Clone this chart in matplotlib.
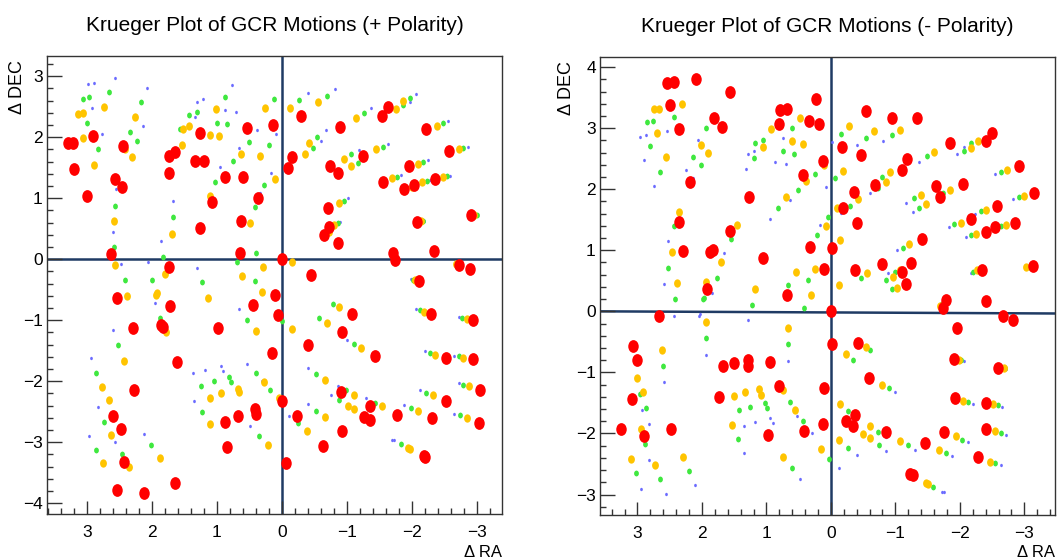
import numpy as np
import matplotlib
matplotlib.use('Agg')
import matplotlib.pyplot as plt
from matplotlib.path import Path
from matplotlib.ticker import MultipleLocator

plt.rcParams['font.family'] = ['Liberation Sans Narrow', 'Liberation Sans', 'DejaVu Sans']
plt.rcParams['axes.unicode_minus'] = True

# ---- (+ Polarity) panel: (dRA, dDEC) per marker colour ----
pos_red = [(3.28,1.90),(3.21,1.91),(3.19,1.48),(3.00,1.04),(2.91,2.02),(2.56,1.31),(2.45,1.18),(2.44,1.86),
           (2.63,0.09),(1.73,1.69),(1.65,1.76),(1.73,1.41),(1.73,-0.13),(1.26,2.07),(1.33,1.61),(1.19,1.61),
           (1.08,0.94),(1.26,0.51),(0.87,1.34),(0.59,1.35),(0.53,2.15),(0.36,1.00),(0.63,0.62),(0.65,0.11),
           (0.13,2.20),(0.00,0.00),(-0.09,1.49),(-0.16,1.68),
           (-0.29,2.35),(-0.90,2.17),(-1.54,2.35),(-1.64,2.49),(-0.74,1.52),(-0.86,1.41),(-1.25,1.69),(-2.21,2.13),
           (-2.57,1.78),(-1.95,1.52),(-1.55,1.27),(-1.88,1.15),(-2.04,1.22),(-2.36,1.32),(-0.71,0.84),(-0.72,0.53),
           (-0.65,0.40),(-0.86,0.27),(-2.08,0.61),(-2.91,0.72),(-1.71,0.11),(-1.74,-0.02),(-2.34,0.14),(-2.73,-0.10),
           (-2.90,-0.16),(-0.45,-0.26),
           (2.54,-0.63),(2.29,-1.13),(1.83,-1.11),(1.85,-1.08),(1.72,-0.77),(0.98,-1.13),(0.45,-0.75),(0.10,-0.58),
           (0.06,-0.92),(1.61,-1.68),(0.15,-1.53),(2.27,-2.15),(2.59,-2.57),(2.47,-2.79),(2.42,-3.33),(2.53,-3.78),
           (2.12,-3.83),(1.65,-3.67),(0.87,-2.66),(0.67,-2.57),(0.41,-2.46),(0.39,-2.54),(0.84,-3.08),(0.00,-2.33),
           (-0.23,-2.57),(-0.06,-3.34),
           (-2.11,-0.36),(-1.08,-0.89),(-2.30,-0.89),(-2.94,-0.99),(-0.92,-1.20),(-0.41,-1.40),(-1.44,-1.58),
           (-2.53,-1.62),(-2.94,-1.64),(-3.05,-2.14),(-2.52,-2.32),(-0.91,-2.18),(-1.36,-2.40),(-1.27,-2.58),
           (-1.36,-2.64),(-1.77,-2.56),(-2.31,-2.60),(-3.03,-2.68),(-0.92,-2.81),(-0.64,-3.06),(-2.18,-3.23),(-2.20,-3.24)]
pos_yellow = [(3.13,2.38),(3.05,2.40),(3.06,1.98),(2.89,1.55),(2.74,2.49),(2.58,0.62),(2.57,-0.09),(2.41,1.80),
              (2.30,1.68),(2.26,2.33),(1.80,-0.24),(1.69,0.41),(1.53,1.87),(1.52,2.14),(1.43,2.19),(1.11,2.03),
              (0.96,2.02),(1.01,2.46),(1.10,1.03),(0.62,1.72),(0.49,0.60),(0.61,-0.27),(0.34,1.69),(0.26,2.47),
              (0.29,-0.13),(0.10,1.31),(-0.13,2.47),(-0.15,-0.05),
              (-0.55,2.57),(-1.14,2.32),(-1.76,2.46),(-1.86,2.60),(-0.35,1.72),(-0.42,1.90),(-0.96,1.65),(-1.06,1.52),
              (-1.45,1.80),(-2.38,2.19),(-2.72,1.81),(-2.09,1.56),(-1.70,1.33),(-2.16,1.26),(-2.48,1.35),(-2.00,1.18),
              (-0.88,0.92),(-0.81,0.56),(-0.73,0.44),(-2.14,0.62),(-2.96,0.72),(-2.68,-0.08),(-2.05,-0.34),
              (2.38,-0.60),(1.94,-0.58),(1.92,-0.56),(1.78,-1.20),(1.14,-0.63),(0.40,-1.17),(0.30,-0.54),(2.43,-1.66),
              (2.77,-2.09),(2.65,-2.31),(2.63,-2.88),(2.75,-3.34),(2.35,-3.41),(1.88,-3.26),(1.11,-2.27),(0.93,-2.19),
              (0.68,-2.12),(0.66,-2.17),(1.10,-2.70),(0.27,-2.02),(0.21,-3.04),(0.04,-2.27),
              (-0.88,-0.78),(-0.69,-1.04),(-0.15,-1.15),(-1.21,-1.46),(-2.18,-0.86),(-2.84,-0.98),(-2.36,-1.57),
              (-2.79,-1.62),(-2.88,-2.08),(-2.32,-2.23),(-0.66,-1.98),(-1.11,-2.23),(-1.01,-2.40),(-1.11,-2.46),
              (-1.54,-2.41),(-2.09,-2.49),(-0.66,-2.58),(-0.38,-2.81),(-1.94,-3.10),(-1.97,-3.11),(-2.84,-2.61)]
pos_green = [(3.06,2.62),(2.97,2.65),(2.99,2.24),(2.83,1.81),(2.65,2.74),(2.56,0.88),(2.58,0.20),(2.34,2.08),
             (2.23,1.93),(2.16,2.57),(1.83,0.03),(1.68,0.69),(1.56,2.13),(1.42,2.36),(1.31,2.41),(1.03,1.26),
             (1.00,2.24),(0.88,2.65),(0.84,2.22),(0.75,1.61),(0.50,1.92),(0.41,0.85),(0.39,0.11),(0.69,-0.04),
             (0.28,1.22),(0.20,1.87),(0.12,2.62),(-0.27,2.61),
             (-0.69,2.68),(-1.26,2.40),(-1.87,2.52),(-1.97,2.64),(-0.48,1.83),(-0.54,2.01),(-1.07,1.72),(-1.17,1.57),
             (-1.55,1.84),(-2.48,2.23),(-2.79,1.83),(-2.17,1.59),(-1.77,1.35),(-2.23,1.28),(-2.54,1.36),(-0.95,0.96),
             (-0.86,0.59),(-2.17,0.62),(-3.00,0.72),(-2.01,-0.34),
             (2.41,-0.34),(1.99,-0.34),(1.22,-0.38),(0.41,-0.35),(1.87,-0.96),(0.53,-0.99),(0.00,-1.01),(2.52,-1.41),
             (2.85,-1.86),(2.73,-2.66),(2.85,-3.13),(2.46,-3.19),(2.01,-3.05),(1.24,-2.07),(1.05,-2.00),(0.81,-1.93),
             (0.78,-2.01),(1.22,-2.50),(0.39,-1.87),(0.18,-2.14),(0.35,-2.90),(-0.25,-2.69),
             (-0.78,-0.73),(-0.57,-0.96),(-1.11,-1.39),(-2.12,-0.83),(-2.77,-0.96),(-2.28,-1.54),(-2.73,-1.59),
             (-2.79,-2.06),(-2.22,-2.19),(-0.53,-1.88),(-0.99,-2.15),(-0.88,-2.31),(-1.43,-2.35),(-1.99,-2.43),
             (-0.53,-2.48),(-1.84,-3.02),(-2.74,-2.56)]
pos_blue = [(2.98,2.87),(2.89,2.89),(2.92,2.47),(2.77,2.06),(2.56,2.97),(2.55,1.15),(2.60,0.45),(2.47,-0.08),
            (2.14,2.18),(2.07,2.80),(2.05,-0.05),(1.86,0.30),(1.67,0.95),(1.33,2.33),(1.30,2.58),(1.21,2.63),
            (1.30,-0.15),(0.95,1.51),(0.88,2.44),(0.76,2.86),(0.71,2.42),(0.66,1.83),(0.33,1.09),(0.38,2.12),
            (0.17,1.42),(0.09,2.05),
            (-0.41,2.73),(-0.82,2.79),(-1.37,2.47),(-1.97,2.57),(-2.07,2.70),(-0.60,1.94),(-0.68,2.12),(-1.18,1.79),
            (-1.64,1.89),(-2.56,2.26),(-2.86,1.84),(-2.24,1.62),(-1.84,1.38),(-2.28,1.29),(-2.58,1.37),(-1.02,1.00),
            (-0.90,0.61),(-2.19,0.62),(-1.99,-0.33),
            (1.95,-0.72),(0.66,-0.81),(2.59,-1.16),(2.94,-1.62),(2.83,-2.42),(2.96,-2.90),(2.57,-2.99),(2.12,-2.86),
            (1.37,-1.87),(1.18,-1.81),(0.94,-1.75),(0.91,-1.83),(1.35,-2.32),(0.54,-1.71),(0.31,-1.99),(0.49,-2.74),
            (-0.11,-2.57),
            (-1.00,-1.33),(-2.06,-0.82),(-2.73,-0.95),(-2.20,-1.51),(-2.65,-1.58),(-2.72,-2.03),(-2.12,-2.14),
            (-0.40,-1.78),(-0.86,-2.07),(-0.76,-2.23),(-1.30,-2.27),(-1.88,-2.39),(-0.40,-2.38),(-1.70,-2.96),
            (-1.73,-2.97),(-2.64,-2.54)]

# ---- (- Polarity) panel ----
neg_red = [(2.54,3.74),(2.44,3.75),(2.09,3.80),(1.57,3.60),(2.50,3.38),(2.36,2.98),(1.81,3.17),(1.69,3.02),
           (2.19,2.12),(2.36,1.47),(2.30,0.99),(1.87,0.98),(1.83,1.00),(1.92,0.37),(1.57,1.31),(1.27,1.87),
           (1.05,0.88),(0.81,3.06),(0.79,3.29),(0.68,3.32),(0.34,3.12),(0.23,3.48),(0.18,3.06),(0.12,2.47),
           (0.43,2.23),(0.33,1.05),(0.10,0.69),(0.68,0.26),(-0.01,1.04),
           (-0.55,3.28),(-0.94,3.17),(-1.33,3.16),(-0.17,2.69),(-0.46,2.56),(-1.18,2.49),(-1.11,2.32),(-0.68,2.07),
           (-0.36,1.96),(-0.19,1.69),(-0.41,1.45),(-1.42,1.19),(-1.85,2.75),(-2.40,2.79),(-2.50,2.92),(-1.63,2.05),
           (-1.69,1.87),(-2.05,2.08),(-2.92,2.38),(-3.15,1.94),(-2.57,1.72),(-2.18,1.51),(-2.40,1.30),(-2.55,1.38),
           (-2.86,1.44),(-0.79,0.77),(-1.24,0.79),(-1.11,0.65),(-1.16,0.45),(-0.37,0.68),(-2.35,0.68),(-3.14,0.74),
           (-1.78,0.18),(-1.74,0.05),(-2.40,0.17),
           (2.67,-0.08),(3.07,-0.56),(3.01,-0.80),(3.09,-1.43),(3.26,-1.93),(2.90,-2.04),(2.48,-1.92),(1.68,-0.90),
           (1.51,-0.84),(1.29,-0.79),(1.28,-0.90),(0.95,-0.83),(1.73,-1.40),(0.80,-1.23),(0.98,-2.02),(0.42,-1.96),
           (0.12,-1.85),(0.11,-1.26),(-0.01,-0.54),(0.00,0.00),
           (-2.67,-0.07),(-2.82,-0.14),(-1.95,-0.27),(-0.42,-0.52),(-1.91,-0.78),(-2.59,-0.92),(-0.59,-1.09),
           (-1.92,-1.42),(-2.40,-1.50),(-0.37,-1.69),(-0.24,-1.80),(-0.35,-1.88),(-0.85,-1.98),(-1.75,-1.98),
           (-2.40,-1.92),(-1.46,-2.16),(-2.28,-2.39),(-1.23,-2.67),(-1.28,-2.68)]
neg_yellow = [(2.75,3.31),(2.66,3.31),(2.31,3.39),(2.70,2.92),(2.56,2.53),(2.02,2.73),(1.91,2.60),(2.36,1.63),
              (2.47,0.97),(2.38,0.46),(1.94,0.48),(1.70,0.81),(1.46,1.41),(1.17,0.37),(1.06,2.69),(0.93,2.98),
              (0.48,3.16),(0.60,2.79),(0.44,2.74),(0.69,1.87),(0.38,2.14),(0.54,0.64),(0.24,0.69),(0.31,0.26),
              (0.10,2.39),(0.08,1.40),
              (-0.28,3.03),(-0.67,2.95),(-1.07,2.97),(-0.19,2.30),(-0.92,2.29),(-0.85,2.11),(-0.42,1.84),(-0.10,1.70),
              (-0.14,1.17),(-1.60,2.61),(-1.40,1.91),(-1.47,1.75),(-1.85,1.99),(-2.28,2.79),(-2.18,2.67),(-2.73,2.32),
              (-2.99,1.89),(-2.40,1.66),(-2.01,1.45),(-2.25,1.27),(-2.71,1.41),(-1.21,1.10),(-0.56,0.62),(-0.12,0.43),
              (-1.02,0.38),(-1.07,0.68),(-0.96,0.56),(-3.03,0.73),(-2.26,0.67),(-1.69,0.09),
              (2.62,-0.63),(3.00,-1.09),(2.91,-1.32),(2.95,-1.92),(3.10,-2.42),(2.73,-2.51),(2.29,-2.39),(1.93,-0.17),
              (1.51,-1.39),(1.33,-1.32),(1.12,-1.27),(1.09,-1.37),(1.53,-1.86),(0.67,-0.27),(0.74,-1.28),(0.55,-1.61),
              (0.74,-2.38),(0.16,-2.26),
              (-0.23,-0.70),(-0.55,-0.58),(-0.79,-1.21),(-0.14,-1.51),(-2.05,-1.46),(-2.52,-1.52),(-0.61,-1.87),
              (-0.50,-2.01),(-0.61,-2.08),(-0.13,-2.10),(-1.07,-2.13),(-1.67,-2.27),(-1.94,-2.04),(-2.55,-1.96),
              (-2.46,-2.46),(-1.47,-2.81),(-1.50,-2.82),(-1.99,-0.79),(-2.68,-0.93)]
neg_green = [(2.85,3.10),(2.76,3.11),(2.43,3.18),(2.80,2.71),(2.65,2.29),(1.93,3.00),(2.14,2.53),(2.02,2.39),
             (2.44,1.40),(2.53,0.71),(2.41,0.20),(1.99,0.20),(1.97,0.22),(1.77,0.55),(1.55,1.18),(1.22,0.11),
             (1.19,2.51),(1.17,2.75),(1.06,2.81),(0.74,2.62),(0.61,3.00),(0.57,2.58),(0.82,1.70),(0.51,1.99),
             (0.24,2.25),(0.21,1.25),(0.66,0.43),(0.36,0.51),(0.42,0.05),(0.04,1.55),
             (-0.15,2.90),(-0.54,2.84),(-0.95,2.88),(-0.06,2.18),(-0.80,2.20),(-0.73,2.02),(-0.30,1.73),(-1.49,2.54),
             (-1.29,1.86),(-1.37,1.70),(-1.74,1.94),(-2.07,2.63),(-2.18,2.75),(-2.64,2.28),(-2.92,1.87),(-2.32,1.64),
             (-1.91,1.43),(-2.18,1.25),(-2.64,1.39),(-1.12,1.04),(-0.46,0.54),(-0.85,0.52),(-0.99,0.65),(-0.94,0.36),
             (-2.21,0.65),(-3.07,0.73),(-1.72,0.12),
             (2.60,-0.90),(2.96,-1.35),(2.87,-1.58),(2.88,-2.18),(3.02,-2.65),(2.65,-2.75),(2.20,-2.62),(1.93,-0.44),
             (1.43,-1.62),(1.26,-1.57),(1.02,-1.50),(0.99,-1.59),(1.44,-2.09),(0.67,-0.54),(0.64,-1.49),(0.43,-1.80),
             (0.61,-2.57),(0.03,-2.42),
             (-0.34,-0.79),(-0.61,-0.63),(-0.90,-1.26),(-0.27,-1.64),(-2.13,-1.48),(-2.59,-1.54),(-0.73,-1.97),
             (-0.75,-2.19),(-0.27,-2.24),(-1.19,-2.19),(-1.78,-2.32),(-2.03,-2.10),(-2.63,-1.99),(-2.55,-2.48),
             (-1.59,-2.88),(-2.02,-0.80),(-2.70,-0.93)]
neg_blue = [(2.96,2.86),(2.87,2.88),(2.54,2.96),(2.90,2.48),(2.75,2.06),(2.06,2.80),(2.25,2.31),(2.14,2.18),
            (2.53,1.15),(2.58,0.45),(1.84,0.30),(1.65,0.95),(1.32,2.33),(1.29,2.57),(1.19,2.62),(0.87,2.44),
            (0.74,2.84),(0.70,2.42),(0.64,1.82),(0.94,1.51),(0.17,1.42),(0.08,2.03),(-0.02,2.78),
            (-0.41,2.73),(-0.81,2.79),(-0.61,1.94),(-0.15,1.61),(-1.36,2.45),(-1.17,1.78),(-1.27,1.63),(-1.66,1.89),
            (-1.96,2.57),(-2.06,2.69),(-2.54,2.25),(-2.83,1.84),(-2.23,1.60),(-1.83,1.38),(-2.10,1.21),(-1.02,1.00),
            (-0.89,0.62),(-2.17,0.63),(-3.06,0.73),(-1.70,0.13),
            (2.44,-0.07),(2.05,-0.07),(2.03,-0.05),(1.29,-0.14),(2.58,-1.16),(2.93,-1.61),(2.82,-1.84),(2.82,-2.43),
            (2.94,-2.91),(2.56,-2.99),(2.11,-2.85),(1.94,-0.71),(1.35,-1.87),(1.17,-1.81),(0.94,-1.75),(0.90,-1.83),
            (1.34,-2.32),(0.66,-0.81),(0.53,-1.71),(0.30,-1.99),(0.48,-2.75),(-0.12,-2.57),
            (-1.00,-1.32),(-2.20,-1.51),(-2.65,-1.56),(-0.40,-1.77),(-0.86,-2.06),(-0.86,-2.28),(-1.31,-2.27),
            (-1.88,-2.37),(-2.12,-2.14),(-2.71,-2.02),(-2.64,-2.52),(-0.40,-2.36),(-1.72,-2.96),(-1.75,-2.96),
            (-2.07,-0.81),(-2.72,-0.94)]

titles = ['Krueger Plot of GCR Motions (+ Polarity)', 'Krueger Plot of GCR Motions (- Polarity)']

# slightly narrow ellipse, like the squashed ROOT markers
circ = Path.unit_circle()
ell = Path(circ.vertices * [0.82, 1.0], circ.codes)

styles = [('#6b6bff', 2.4), ('#3fe83f', 4.2), ('#ffc400', 6.0), ('#ff0000', 9.2)]
axcol = '#1f3b64'

fig = plt.figure(figsize=(10.61, 5.59), dpi=100)
W, H = 1061, 559
boxes = [(46.7, 56, 502.3, 514.3), (600, 56.7, 1054.7, 514.7)]
lims = [((3.615, -3.39), (-4.18, 3.33)), ((3.58, -3.47), (-3.33, 4.17))]
panels = [(pos_blue, pos_green, pos_yellow, pos_red), (neg_blue, neg_green, neg_yellow, neg_red)]
ylab_x = [-0.065, -0.073]

for i in range(2):
    x0, y0, x1, y1 = boxes[i]
    ax = fig.add_axes([x0 / W, 1 - y1 / H, (x1 - x0) / W, (y1 - y0) / H])
    (xa, xb), (ya, yb) = lims[i]
    ax.set_xlim(xa, xb)
    ax.set_ylim(ya, yb)

    # axis cross
    ax.axvline(0, color=axcol, lw=1.8, zorder=1)
    if i == 0:
        ax.axhline(0, color=axcol, lw=1.8, zorder=1)
    else:
        ax.plot([xa, xb], [0.0, -0.035], color=axcol, lw=1.8, zorder=1)

    for pts, (col, ms) in zip(panels[i], styles):
        p = np.array(pts)
        ax.plot(p[:, 0], p[:, 1], ls='none', marker=ell, ms=ms, mfc=col, mec='none', zorder=2)

    ax.xaxis.set_major_locator(MultipleLocator(1))
    ax.xaxis.set_minor_locator(MultipleLocator(0.2))
    ax.yaxis.set_major_locator(MultipleLocator(1))
    ax.yaxis.set_minor_locator(MultipleLocator(0.2))
    ax.tick_params(which='both', direction='in', top=False, right=False, color='#333333', width=1.0)
    ax.tick_params(axis='x', which='major', length=9.5, pad=8, labelsize=12.5)
    ax.tick_params(axis='y', which='major', length=11, pad=3, labelsize=12.5)
    ax.tick_params(which='minor', length=4.5)
    for s in ax.spines.values():
        s.set_color('#333333')
        s.set_linewidth(1.0)

    ax.set_title(titles[i], fontsize=15, pad=18)
    ax.text(ylab_x[i], 0.99, '\u0394 DEC', transform=ax.transAxes, rotation=90,
            ha='center', va='top', fontsize=13)
    ax.text(1.0, -0.093, '\u0394 RA', transform=ax.transAxes, ha='right', va='baseline', fontsize=12)

plt.savefig('out.png', dpi=100)
